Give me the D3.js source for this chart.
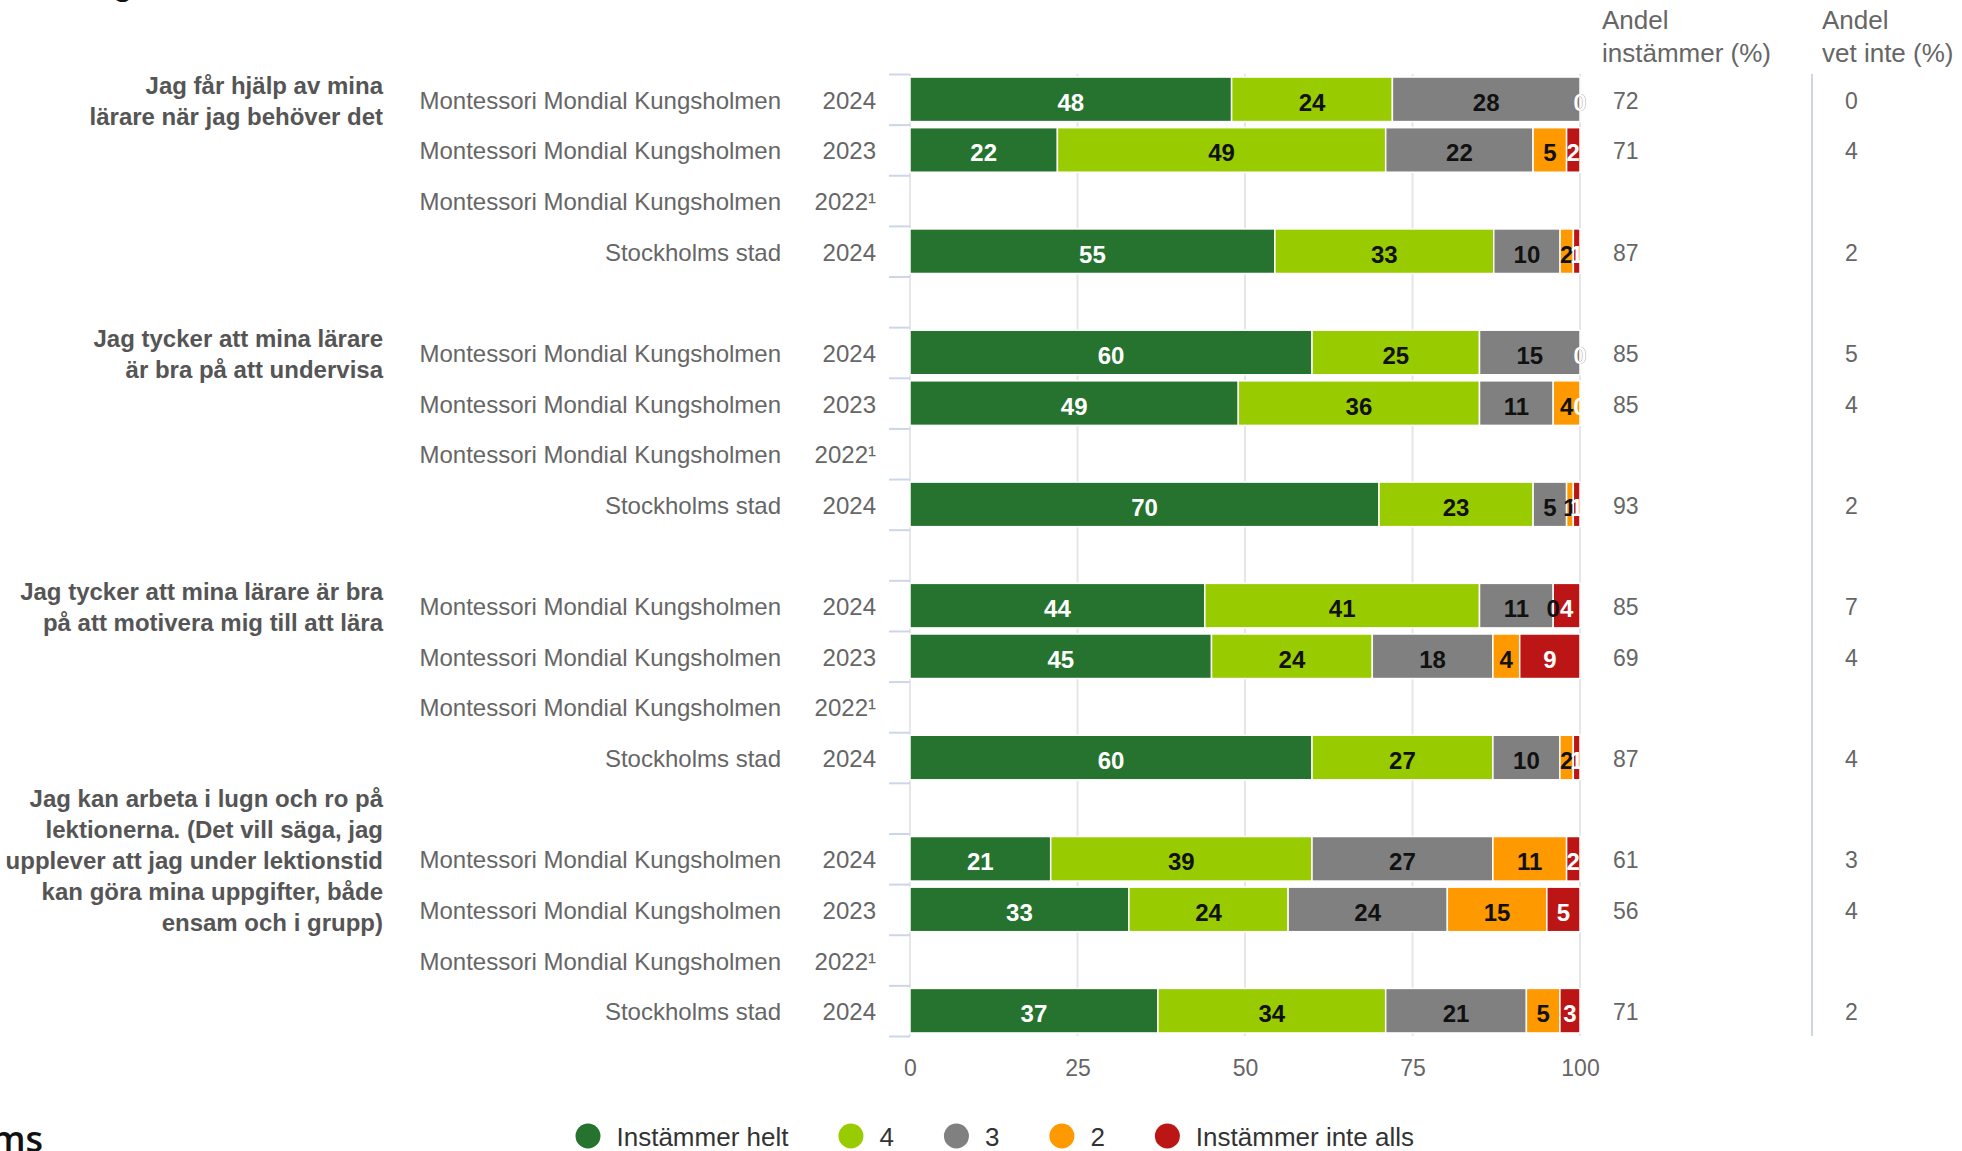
<!DOCTYPE html>
<html>
<head>
<meta charset="utf-8">
<script src="https://cdn.jsdelivr.net/npm/d3@7"></script>
<style>
  body { margin: 0; background: #fff; }
  text { font-family: "Liberation Sans", Arial, sans-serif; }
</style>
</head>
<body>
<script>
var w = 1962;
var h = 1151;

// questions (one per group, wrapped as in the picture)
var questions = [
    ["Jag får hjälp av mina", "lärare när jag behöver det"],
    ["Jag tycker att mina lärare", "är bra på att undervisa"],
    ["Jag tycker att mina lärare är bra", "på att motivera mig till att lära"],
    ["Jag kan arbeta i lugn och ro på", "lektionerna. (Det vill säga, jag",
     "upplever att jag under lektionstid", "kan göra mina uppgifter, både", "ensam och i grupp)"]
];
var schools = ["Montessori Mondial Kungsholmen", "Montessori Mondial Kungsholmen",
               "Montessori Mondial Kungsholmen", "Stockholms stad"];
var years = ["2024", "2023", "2022\u00b9", "2024"];

// series values, 16 rows (4 questions x 4 rows), null = no data
var helt     = [48, 22, null, 55,  60, 49, null, 70,  44, 45, null, 60,  21, 33, null, 37];
var fyra     = [24, 49, null, 33,  25, 36, null, 23,  41, 24, null, 27,  39, 24, null, 34];
var tre      = [28, 22, null, 10,  15, 11, null, 5,   11, 18, null, 10,  27, 24, null, 21];
var tva      = [0,  5,  null, 2,   0,  4,  null, 1,   0,  4,  null, 2,   11, 15, null, 5];
var inteAlls = [0,  2,  null, 1,   0,  0,  null, 1,   4,  9,  null, 1,   2,  5,  null, 3];

var andelInstammer = [72, 71, null, 87,  85, 85, null, 93,  85, 69, null, 87,  61, 56, null, 71];
var andelVetInte   = [0,  4,  null, 2,   5,  4,  null, 2,   7,  4,  null, 4,   3,  4,  null, 2];

var xTicks = [0, 25, 50, 75, 100];

var keys = ["helt", "fyra", "tre", "tva", "alls"];
var names = ["Instämmer helt", "4", "3", "2", "Instämmer inte alls"];
var colors = ["#25732e", "#99cc00", "#808080", "#ff9900", "#bb1515"];
var labelColors = ["#fff", "#111", "#111", "#111", "#fff"];

var svg = d3.select("body")
    .append("svg")
    .attr("width", w)
    .attr("height", h);

svg.append("rect").attr("width", w).attr("height", h).attr("fill", "#fff");

var nSlots = 19;
var top0 = 74, bottom0 = 1036;

var xScale = d3.scaleLinear().domain([0, 100]).range([910, 1580]);
var yScale = d3.scaleBand()
    .domain(d3.range(nSlots))
    .range([top0, bottom0])
    .paddingInner(0.12)
    .paddingOuter(0.06);
var yEdges = d3.scaleLinear().domain([0, nSlots]).range([top0, bottom0]);

// rows -> slot (blank slot between the question groups)
var rows = d3.range(16).map(function(i) {
    return {
        i: i,
        slot: Math.floor(i / 4) * 5 + (i % 4),
        helt: helt[i], fyra: fyra[i], tre: tre[i], tva: tva[i], alls: inteAlls[i]
    };
});
function mid(slot) { return yScale(slot) + yScale.bandwidth() / 2; }

// grid lines
svg.append("g")
    .selectAll("line")
    .data(xTicks)
    .enter()
    .append("line")
    .attr("x1", function(d) { return xScale(d); })
    .attr("x2", function(d) { return xScale(d); })
    .attr("y1", top0)
    .attr("y2", bottom0)
    .attr("stroke", "#e6e6e6")
    .attr("stroke-width", 2);

// left ticks at slot edges
var yAxis = svg.append("g")
    .attr("transform", "translate(" + xScale(0) + ",0)")
    .call(d3.axisLeft(yEdges).tickValues(d3.range(nSlots + 1)).tickFormat("").tickSize(21));
yAxis.select(".domain").remove();
yAxis.selectAll(".tick line").attr("stroke", "#ccd6eb").attr("stroke-width", 2);

// x axis labels
var xAxis = svg.append("g")
    .attr("transform", "translate(0," + 1050 + ")")
    .call(d3.axisBottom(xScale).tickValues(xTicks).tickSize(0).tickPadding(10));
xAxis.select(".domain").remove();
xAxis.selectAll("text")
    .attr("fill", "#666")
    .style("font-size", "23px")
    .style("font-family", "'Liberation Sans', Arial, sans-serif");

// stacked bars, percent stacking
var table = rows.filter(function(r) { return r.helt != null; });
var stack = d3.stack().keys(keys).offset(d3.stackOffsetExpand);
var series = stack(table);

var groups = svg.selectAll("g.series")
    .data(series)
    .enter()
    .append("g")
    .attr("class", "series")
    .attr("fill", function(d, i) { return colors[i]; });

groups.selectAll("rect")
    .data(function(d) { return d; })
    .enter()
    .append("rect")
    .attr("x", function(d) { return xScale(d[0] * 100); })
    .attr("y", function(d) { return yScale(d.data.slot); })
    .attr("width", function(d) { return xScale(d[1] * 100) - xScale(d[0] * 100); })
    .attr("height", yScale.bandwidth())
    .attr("stroke", "#fff")
    .attr("stroke-width", 1.5);

// data labels
series.forEach(function(s, k) {
    svg.append("g")
        .selectAll("text")
        .data(s)
        .enter()
        .append("text")
        .attr("x", function(d) { return xScale((d[0] + d[1]) * 50); })
        .attr("y", function(d) { return mid(d.data.slot) + 11.5; })
        .attr("text-anchor", "middle")
        .attr("fill", labelColors[k])
        .style("font-size", "24px")
        .style("font-weight", "bold")
        .text(function(d) { return d.data[s.key]; });
});

// category labels
svg.append("g")
    .selectAll("text")
    .data(rows)
    .enter()
    .append("text")
    .attr("x", 781)
    .attr("y", function(d) { return mid(d.slot) + 9.5; })
    .attr("text-anchor", "end")
    .attr("fill", "#666")
    .style("font-size", "24px")
    .text(function(d) { return schools[d.i % 4]; });

svg.append("g")
    .selectAll("text")
    .data(rows)
    .enter()
    .append("text")
    .attr("x", 876)
    .attr("y", function(d) { return mid(d.slot) + 9.5; })
    .attr("text-anchor", "end")
    .attr("fill", "#666")
    .style("font-size", "24px")
    .text(function(d) { return years[d.i % 4]; });

// question labels
questions.forEach(function(lines, g) {
    var cy = mid(g * 5);
    var t = svg.append("text")
        .attr("text-anchor", "end")
        .attr("fill", "#555")
        .style("font-size", "24px")
        .style("font-weight", "bold");
    lines.forEach(function(line, j) {
        t.append("tspan")
            .attr("x", 383)
            .attr("y", cy - (lines.length - 1) * 31 / 2 + j * 31 + 10)
            .text(line);
    });
});

// right columns
var colX = [1602, 1822];
var colVal = [1613, 1845];
var headers = [["Andel", "instämmer (%)"], ["Andel", "vet inte (%)"]];
headers.forEach(function(hd, c) {
    hd.forEach(function(line, j) {
        svg.append("text")
            .attr("x", colX[c])
            .attr("y", 29 + j * 33)
            .attr("fill", "#666")
            .style("font-size", "26px")
            .text(line);
    });
});

[andelInstammer, andelVetInte].forEach(function(vals, c) {
    svg.append("g")
        .selectAll("text")
        .data(rows.filter(function(r) { return vals[r.i] != null; }))
        .enter()
        .append("text")
        .attr("x", colVal[c])
        .attr("y", function(d) { return mid(d.slot) + 9.5; })
        .attr("fill", "#666")
        .style("font-size", "23px")
        .text(function(d) { return vals[d.i]; });
});

svg.append("line")
    .attr("x1", 1812).attr("x2", 1812)
    .attr("y1", top0).attr("y2", bottom0)
    .attr("stroke", "#ccd6eb")
    .attr("stroke-width", 2);

// legend
var legend = svg.append("g").attr("transform", "translate(0,1136)");
var lx = 588;
names.forEach(function(name, i) {
    legend.append("circle")
        .attr("cx", lx)
        .attr("cy", 0)
        .attr("r", 12.5)
        .attr("fill", colors[i]);
    var t = legend.append("text")
        .attr("x", lx + 28.5)
        .attr("y", 10)
        .attr("fill", "#333")
        .style("font-size", "26px")
        .text(name);
    lx = lx + 28.5 + t.node().getComputedTextLength() + 62.5;
});

// cut-off text from the surrounding page
svg.append("text")
    .attr("x", 113).attr("y", -5)
    .attr("fill", "#111")
    .style("font-size", "32px")
    .style("font-weight", "bold")
    .text("g");

svg.append("text")
    .attr("x", 43).attr("y", 1152)
    .attr("text-anchor", "end")
    .attr("fill", "#111")
    .style("font-family", "'Open Sans', sans-serif")
    .style("font-size", "36px")
    .style("font-weight", "600")
    .text("ms");
</script>
</body>
</html>
